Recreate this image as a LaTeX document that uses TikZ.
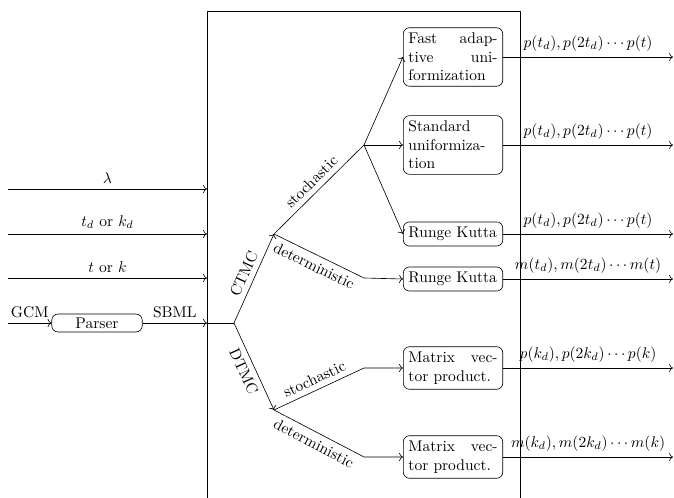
\documentclass[tikz,border=0pt]{standalone}
\usetikzlibrary{arrows.meta}
\begin{document}
\begin{tikzpicture}[x=0.645pt, y=-0.645pt, >={To},
  box/.style={draw=black, solid, fill=white, rounded corners=4pt, text width=57.5pt, align=justify, },
  parserbox/.style={draw=black, solid, fill=white, rounded corners=4pt, minimum width=2.05cm, inner ysep=2.3pt, }]
\useasboundingbox (0, 0) rectangle (674, 498);
% frame of the solver
\draw [] (207, 498) -- (207, 11) -- (520, 11) -- (520, 498);
% inputs
\coordinate (i0) at (8, 189);
\coordinate (i1) at (8, 234);
\coordinate (i2) at (8, 278);
\coordinate (i3) at (8, 323);
\coordinate (f0) at (207, 189);
\coordinate (f1) at (207, 234);
\coordinate (f2) at (207, 278);
\coordinate (f3) at (207, 323);
\node[parserbox, ] (parser) at (97, 323) {Parser};
% branch points
\coordinate (bp) at (234, 323);
\coordinate (ct) at (274, 234);
\coordinate (dt) at (274, 410);
\coordinate (cs) at (364, 145);
\coordinate (cd) at (364, 278);
\coordinate (ds) at (364, 368);
\coordinate (dd) at (364, 457);
% solvers
\node[box, anchor=west, ] (fau) at (403, 57) {Fast adaptive uniformization};
\node[box, anchor=west, ] (su) at (403, 145) {Standard uniformization};
\node[box, anchor=west, ] (rka) at (403, 234) {Runge~Kutta};
\node[box, anchor=west, ] (rkb) at (403, 279) {Runge~Kutta};
\node[box, anchor=west, ] (mva) at (403, 368) {Matrix vector product.};
\node[box, anchor=west, ] (mvb) at (403, 457) {Matrix vector product.};
% outputs
\coordinate (o0) at (673, 57);
\coordinate (o1) at (673, 145);
\coordinate (o2) at (673, 234);
\coordinate (o3) at (673, 279);
\coordinate (o4) at (673, 368);
\coordinate (o5) at (673, 457);
\draw [->] (i0) -- node[above] {$\lambda$} (f0);
\draw [->] (i1) -- node[above] {$t_d$ or $k_d$} (f1);
\draw [->] (i2) -- node[above] {$t$ or $k$} (f2);
\draw [->] (i3) -- node[above] {GCM} (parser.west);
\draw [->] (parser.east) -- node[above] {SBML} (f3);
\draw [] (f3) -- (bp);
\draw [->] (bp) -- node[above, sloped] {CTMC} (ct);
\draw [->] (bp) -- node[below, sloped] {DTMC} (dt);
\draw [] (ct) -- node[above, sloped] {stochastic} (cs);
\draw [->] (ct) -- node[below, sloped] {deterministic} (cd) -- (rkb.west);
\draw [->] (dt) -- node[above, sloped] {stochastic} (ds) -- (mva.west);
\draw [->] (dt) -- node[below, sloped] {deterministic} (dd) -- (mvb.west);
\draw [->] (cs) -- (fau.west);
\draw [->] (cs) -- (su.west);
\draw [->] (cs) -- (rka.west);
\draw [->] (fau.east) -- node[above] {$p(t_d), p(2t_d) \cdots p(t)$} (o0);
\draw [->] (su.east) -- node[above] {$p(t_d), p(2t_d) \cdots p(t)$} (o1);
\draw [->] (rka.east) -- node[above] {$p(t_d), p(2t_d) \cdots p(t)$} (o2);
\draw [->] (rkb.east) -- node[above] {$m(t_d), m(2t_d) \cdots m(t)$} (o3);
\draw [->] (mva.east) -- node[above] {$p(k_d), p(2k_d) \cdots p(k)$} (o4);
\draw [->] (mvb.east) -- node[above] {$m(k_d), m(2k_d) \cdots m(k)$} (o5);
\end{tikzpicture}
\end{document}
